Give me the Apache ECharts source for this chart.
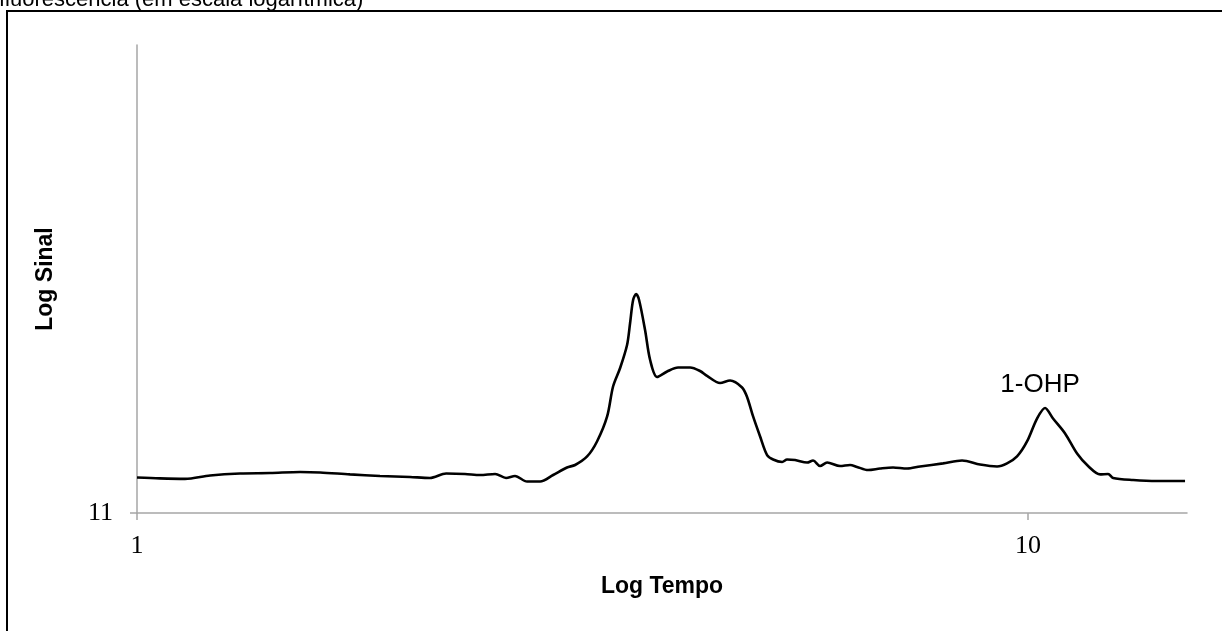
<!DOCTYPE html>
<html>
<head>
<meta charset="utf-8">
<script src="https://cdn.jsdelivr.net/npm/echarts@6/dist/echarts.min.js"></script>
<style>html,body{margin:0;padding:0;background:#fff;}#c{width:1222px;height:631px;}</style>
</head>
<body>
<div id="c"></div>
<script>
// Time (log scale, x)
const tempo = [1.000,1.061,1.132,1.208,1.305,1.411,1.524,1.605,1.734,1.874,2.025,2.132,2.223,2.334,2.427,2.523,2.595,2.656,2.740,2.834,2.931,3.038,3.102,3.200,3.283,3.370,3.422,3.485,3.548,3.576,3.604,3.632,3.660,3.717,3.766,3.834,3.935,4.048,4.176,4.285,4.363,4.512,4.630,4.776,4.838,4.914,5.004,5.095,5.175,5.297,5.365,5.477,5.650,5.738,5.843,5.950,6.152,6.313,6.428,6.614,6.822,7.055,7.315,7.565,8.028,8.433,8.834,9.231,9.472,9.720,9.974,10.235,10.449,10.667,11.004,11.351,11.679,12.047,12.299,12.459,13.120,13.956,15.004];
// Signal (log scale, y)
const sinal = [13.10,13.04,13.01,13.23,13.36,13.39,13.46,13.43,13.30,13.20,13.13,13.07,13.36,13.33,13.26,13.33,13.07,13.20,12.84,12.84,13.26,13.76,13.93,14.53,15.64,17.69,20.50,22.45,25.14,28.02,31.37,32.31,31.37,27.07,23.35,21.48,22.07,22.51,22.51,22.12,21.59,20.85,21.11,20.40,19.47,17.69,16.03,14.63,14.31,14.14,14.31,14.28,14.10,14.24,13.86,14.10,13.86,13.93,13.80,13.59,13.69,13.76,13.69,13.83,14.04,14.24,13.96,13.83,14.04,14.53,15.64,17.51,18.44,17.51,16.27,14.74,13.86,13.30,13.33,13.07,12.94,12.88,12.88];
const xTicks = [1, 10];
const yTicks = [11];
const peakLabel = '1-OHP';
const peakIndex = 72;

const chart = echarts.init(document.getElementById('c'), null, {renderer: 'canvas'});
const data = tempo.map((t, i) => [t, sinal[i]]);
const serif = 'Liberation Serif';
const sans = 'Liberation Sans';
chart.setOption({
  animation: false,
  backgroundColor: '#fff',
  grid: {left: 137, right: 35, top: 45, bottom: 118, containLabel: false},
  xAxis: {
    type: 'log', logBase: 10, min: 1, max: 15.08,
    name: 'Log Tempo', nameLocation: 'middle', nameGap: 62,
    nameTextStyle: {fontFamily: sans, fontWeight: 'bold', fontSize: 23, color: '#000'},
    axisLine: {show: true, lineStyle: {color: '#a6a6a6', width: 1.5}},
    axisTick: {show: true, length: 7, lineStyle: {color: '#a6a6a6', width: 1.5}, customValues: xTicks},
    axisLabel: {show: true, customValues: xTicks, margin: 20, fontFamily: serif, fontSize: 26, color: '#000'},
    splitLine: {show: false}, minorTick: {show: false}
  },
  yAxis: {
    type: 'log', logBase: 10, min: 11, max: 110,
    name: 'Log Sinal', nameLocation: 'middle', nameGap: 80, nameRotate: 90,
    nameTextStyle: {fontFamily: sans, fontWeight: 'bold', fontSize: 23, color: '#000'},
    axisLine: {show: true, lineStyle: {color: '#a6a6a6', width: 1.5}},
    axisTick: {show: true, length: 7, lineStyle: {color: '#a6a6a6', width: 1.5}, customValues: yTicks},
    axisLabel: {show: true, customValues: yTicks, margin: 24, fontFamily: serif, fontSize: 26, color: '#000'},
    splitLine: {show: false}
  },
  series: [{
    type: 'line', data: data, showSymbol: false, smooth: 0.3,
    lineStyle: {color: '#000', width: 2.6},
    markPoint: {
      symbol: 'circle', symbolSize: 0,
      data: [{coord: data[peakIndex], value: peakLabel}],
      label: {show: true, formatter: peakLabel, position: 'top', distance: 10, offset: [-5, 0], fontFamily: sans, fontSize: 26, color: '#000'}
    }
  }],
  graphic: [
    {type: 'rect', shape: {x: 7, y: 11, width: 1400, height: 1000}, style: {fill: 'none', stroke: '#000', lineWidth: 2}, silent: true},
    {type: 'text', x: -1, y: -11, style: {text: 'fluorescência (em escala logarítmica)', font: '22px "Liberation Sans"', fill: '#000', verticalAlign: 'top'}}
  ]
});
</script>
</body>
</html>
